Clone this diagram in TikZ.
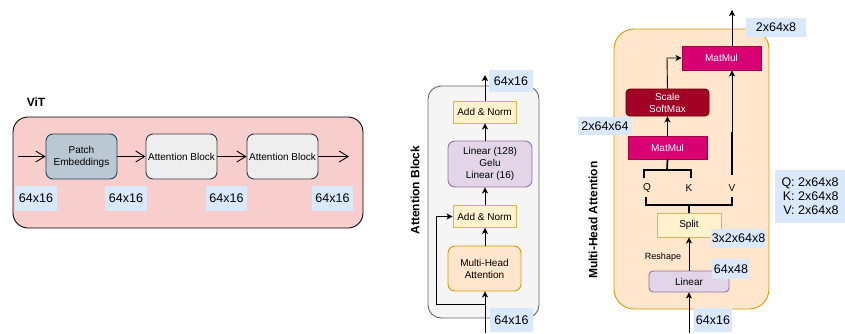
\documentclass[tikz,border=0pt]{standalone}
\usepackage{fontspec}
\setmainfont{Liberation Sans}
\usetikzlibrary{arrows.meta}

\definecolor{vitfill}{HTML}{F8CECC}
\definecolor{lblue}{HTML}{DAE8FC}
\definecolor{pefill}{HTML}{BAC8D3}
\definecolor{pedraw}{HTML}{23445D}
\definecolor{abfill}{HTML}{EEEEEE}
\definecolor{abdraw}{HTML}{36393D}
\definecolor{grayfill}{HTML}{F5F5F5}
\definecolor{graydraw}{HTML}{666666}
\definecolor{orfill}{HTML}{FFE6CC}
\definecolor{ordraw}{HTML}{D79B00}
\definecolor{yefill}{HTML}{FFF2CC}
\definecolor{yedraw}{HTML}{D6B656}
\definecolor{pufill}{HTML}{E1D5E7}
\definecolor{pudraw}{HTML}{9673A6}
\definecolor{mgfill}{HTML}{D80073}
\definecolor{mgdraw}{HTML}{A50040}
\definecolor{rdfill}{HTML}{A20025}
\definecolor{rddraw}{HTML}{6F0000}

\tikzset{
  base/.style={inner sep=0pt, align=center, line width=0.9pt},
  sz/.style n args={2}{minimum width=#1, minimum height=#2},
  dimlbl/.style={fill=lblue, inner sep=0pt, font=\fontsize{12.5}{14}\selectfont},
  boxtxt/.style={font=\fontsize{10}{12}\selectfont},
  title/.style={font=\bfseries\fontsize{12}{14}\selectfont},
  openarr/.style={line width=0.9pt, -{Straight Barb[length=9pt,width=11pt]}},
  arr/.style={line width=0.9pt, -{Stealth[length=6pt,width=6pt,inset=1.5pt]}},
  thickln/.style={line width=1.7pt},
}

\begin{document}
\begin{tikzpicture}[x=1pt,y=-1pt]
\useasboundingbox (0,0) rectangle (845,333);

% ---------------- ViT ----------------
\node[title] (vittitle) at (36,102) {ViT};
\node[base, draw=black, fill=vitfill, rounded corners=15pt, sz={350pt}{111pt}] (vit) at (188,172.5) {};
\node[base, boxtxt, draw=pedraw, fill=pefill, rounded corners=7pt, sz={71pt}{45pt}] (pe) at (81.5,156.5) {Patch\\Embeddings};
\node[base, boxtxt, draw=abdraw, fill=abfill, rounded corners=7pt, sz={71pt}{45pt}] (ab1) at (181.5,156.5) {Attention Block};
\node[base, boxtxt, draw=abdraw, fill=abfill, rounded corners=7pt, sz={71pt}{45pt}] (ab2) at (282.5,156.5) {Attention Block};
\coordinate (vin) at (18,156.5);
\coordinate (vout) at (349,156.5);
\draw[openarr] (vin) -- (pe.west);
\draw[openarr] (pe.east) -- (ab1.west);
\draw[openarr] (ab1.east) -- (ab2.west);
\draw[openarr] (ab2.east) -- (vout);
\node[dimlbl, sz={42pt}{25pt}] (d1) at (36,198.5) {64x16};
\node[dimlbl, sz={42pt}{25pt}] (d2) at (126,198.5) {64x16};
\node[dimlbl, sz={41pt}{25pt}] (d3) at (226.5,198.5) {64x16};
\node[dimlbl, sz={41pt}{25pt}] (d4) at (332.5,198.5) {64x16};

% ---------------- Attention Block ----------------
\node[base, draw=graydraw, fill=grayfill, rounded corners=13pt, sz={111pt}{232pt}] (abox) at (483.5,202) {};
\node[title, rotate=90] (abtitle) at (415,190) {Attention Block};
\node[base, boxtxt, draw=yedraw, fill=yefill, sz={63pt}{22pt}] (an2) at (484.5,112) {Add \& Norm};
\node[base, boxtxt, draw=pudraw, fill=pufill, rounded corners=7pt, sz={84pt}{46pt}] (mlp) at (490,164) {Linear (128)\\Gelu\\Linear (16)};
\node[base, boxtxt, draw=yedraw, fill=yefill, sz={63pt}{22pt}] (an1) at (484.5,216.5) {Add \& Norm};
\node[base, boxtxt, draw=ordraw, fill=orfill, rounded corners=7pt, sz={73pt}{45pt}] (mha) at (484.5,268.5) {Multi-Head\\Attention};
\coordinate (abin) at (485,333);
\coordinate (about) at (485,75);
\coordinate (res) at (485,304);
\coordinate (resL) at (436,304);
\draw[arr] (abin) -- (abin |- mha.south);
\draw[arr] (abin |- mha.north) -- (abin |- an1.south);
\draw[arr] (abin |- an1.north) -- (abin |- mlp.south);
\draw[arr] (abin |- mlp.north) -- (abin |- an2.south);
\draw[arr] (abin |- an2.north) -- (about);
\draw[arr] (res) -- (resL) |- (an1.west);
\node[dimlbl, sz={44pt}{22pt}] (abtop) at (511,81) {64x16};
\node[dimlbl, sz={43pt}{24pt}] (abbot) at (511.5,320) {64x16};

% ---------------- Multi-Head Attention ----------------
\node[base, draw=ordraw, fill=orfill, rounded corners=20pt, sz={155pt}{280pt}] (mbox) at (691.5,169) {};
\node[title, rotate=90] (mtitle) at (593,220) {Multi-Head Attention};
\node[base, boxtxt, text=white, draw=mgdraw, fill=mgfill, sz={79pt}{24pt}] (mm2) at (721.5,58) {MatMul};
\node[base, boxtxt, text=white, draw=rddraw, fill=rdfill, rounded corners=4pt, sz={83pt}{27pt}] (sm) at (667.5,102.5) {Scale\\SoftMax};
\node[base, boxtxt, text=white, draw=mgdraw, fill=mgfill, sz={79pt}{23pt}] (mm1) at (667.5,147.5) {MatMul};
\node[base, boxtxt, draw=yedraw, fill=yefill, sz={64pt}{24pt}] (split) at (689,225) {Split};
\node[base, boxtxt, draw=pudraw, fill=pufill, rounded corners=4pt, sz={80pt}{21pt}] (lin) at (689,281.5) {Linear};

\node[boxtxt, inner sep=0pt] (q) at (647,188) {Q};
\node[boxtxt, inner sep=0pt] (k) at (689,188) {K};
\node[boxtxt, inner sep=0pt] (v) at (732,188) {V};
\node[inner sep=0pt, font=\fontsize{9}{11}\selectfont] (reshape) at (663,257) {Reshape};

\coordinate (min) at (689,333);
\coordinate (mout) at (732,10);
\coordinate (vx) at (732,132);
\coordinate (vbot) at (732,175);
\coordinate (skx) at (667,58);
% input, linear and split
\draw[arr] (min) -- (min |- lin.south);
\draw[arr] (min |- lin.north) -- (min |- split.south);
% split fan-out to Q, K, V
\coordinate (spl) at (689,205);
\draw[thickln] (split.north) -- (spl);
\draw[thickln] (646,197) -- (646,205) -- (732,205) -- (732,197);
% Q, K gathered into the first MatMul
\draw[thickln] (mm1.south) -- (667,170);
\draw[thickln] (644,178) -- (644,170) -- (691,170) -- (691,178);
% V straight up to the second MatMul
\draw[thickln] (vbot) -- (vx);
\draw[arr] (vx) -- (vx |- mm2.south);
% attention weights path
\draw[arr] (mm1.north) -- (sm.south);
\draw[arr] (sm.north) -- (skx) -- (mm2.west);
\draw[arr] (mout |- mm2.north) -- (mout);

\node[dimlbl, sz={60pt}{19pt}] (mtop) at (776,27.5) {2x64x8};
\node[dimlbl, sz={54pt}{18pt}] (mleft) at (605,126) {2x64x64};
\node[dimlbl, sz={55pt}{19pt}] (msplit) at (738.5,238.5) {3x2x64x8};
\node[dimlbl, sz={38pt}{20pt}] (mlin) at (731,269) {64x48};
\node[dimlbl, sz={38pt}{24pt}] (mbot) at (713,320) {64x16};
\node[dimlbl, sz={70pt}{53pt}, align=right] (qkv) at (810,196.5) {Q: 2x64x8\\K: 2x64x8\\V: 2x64x8};
\end{tikzpicture}
\end{document}
